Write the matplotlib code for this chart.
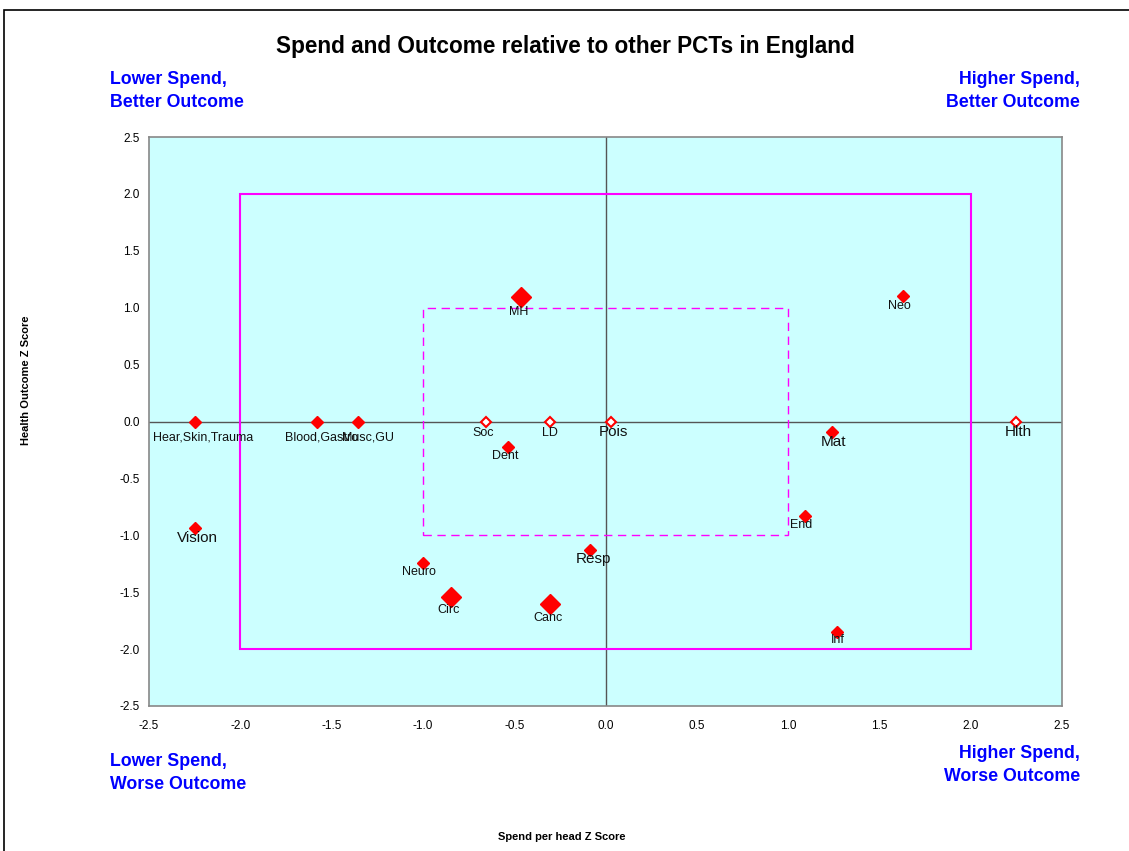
import matplotlib.pyplot as plt
from matplotlib.patches import Rectangle

plt.rcParams['font.family'] = ['Liberation Sans', 'DejaVu Sans']

# Data: spend z score (x) and health outcome z score (y) per programme
labels = ['Hear,Skin,Trauma', 'Blood,Gastro', 'Musc,GU', 'Soc', 'LD', 'Pois', 'Hlth',
          'MH', 'Dent', 'Neo', 'Mat', 'End', 'Resp', 'Vision', 'Neuro', 'Circ', 'Canc', 'Inf']
spend = [-2.25, -1.58, -1.355, -0.654, -0.304, 0.03, 2.25,
         -0.463, -0.534, 1.63, 1.24, 1.09, -0.085, -2.25, -1.0, -0.846, -0.304, 1.27]
outcome = [0.0, 0.0, 0.0, 0.0, 0.0, 0.0, 0.0,
           1.094, -0.224, 1.10, -0.09, -0.83, -1.13, -0.936, -1.24, -1.54, -1.60, -1.85]
# marker kind: 'f' filled small, 'h' hollow small, 'b' filled big
kind = ['f', 'f', 'f', 'h', 'h', 'h', 'h',
        'b', 'f', 'f', 'f', 'f', 'f', 'f', 'f', 'b', 'b', 'f']

# label offsets in pixels (dx, dy down) and font size
offsets = {'Hear,Skin,Trauma': (8, 16), 'Blood,Gastro': (5, 16), 'Musc,GU': (10, 16),
           'Soc': (-3, 11), 'LD': (0, 11), 'Pois': (2, 11), 'Hlth': (2, 11),
           'MH': (-2, 15), 'Dent': (-3, 9), 'Neo': (-4, 10), 'Mat': (2, 10),
           'End': (-3, 9), 'Resp': (3, 9), 'Vision': (3, 10), 'Neuro': (-4, 9),
           'Circ': (-2, 13), 'Canc': (-2, 14), 'Inf': (0, 8)}
big_font = ['Pois', 'Hlth', 'Mat', 'Resp', 'Vision']

fig = plt.figure(figsize=(11.29, 8.51), dpi=100)
ax = fig.add_axes([149 / 1129, 1 - 706 / 851, (1062 - 149) / 1129, (706 - 137) / 851])
ax.set_facecolor('#CCFFFF')

# outer chart border (clipped at right and bottom like the source)
fig.patches.append(Rectangle((4 / 1129, -0.1), 1.2, (851 - 10) / 851 + 0.1,
                             transform=fig.transFigure, fill=False,
                             edgecolor='black', linewidth=1.2))

ax.axhline(0, color='#555555', lw=1, zorder=1)
ax.axvline(0, color='#555555', lw=1, zorder=1)
ax.add_patch(Rectangle((-2, -2), 4, 4, fill=False, edgecolor='#FF00FF', lw=1.5, zorder=2))
ax.add_patch(Rectangle((-1, -1), 2, 2, fill=False, edgecolor='#FF00FF', lw=1,
                       linestyle=(0, (6, 4)), zorder=2))

for lab, x, y, k in zip(labels, spend, outcome, kind):
    if k == 'h':
        ax.plot(x, y, 'D', ms=5.5, mfc='white', mec='red', mew=1.5, zorder=3)
    elif k == 'b':
        ax.plot(x, y, 'D', ms=10, mfc='red', mec='red', zorder=3)
    else:
        ax.plot(x, y, 'D', ms=6, mfc='red', mec='red', zorder=3)
    dx, dy = offsets[lab]
    ax.annotate(lab, (x, y), xytext=(dx * 0.72, -dy * 0.72), textcoords='offset points',
                ha='center', va='center', fontsize=11 if lab in big_font else 9,
                color='#111111', zorder=4)

ax.set_xlim(-2.5, 2.5)
ax.set_ylim(-2.5, 2.5)
ticks = [-2.5, -2.0, -1.5, -1.0, -0.5, 0.0, 0.5, 1.0, 1.5, 2.0, 2.5]
ax.set_xticks(ticks)
ax.set_yticks(ticks)
ax.set_xticklabels([f'{t:.1f}' for t in ticks])
ax.set_yticklabels([f'{t:.1f}' for t in ticks])
ax.tick_params(axis='x', length=0, labelsize=8.5, pad=10)
ax.tick_params(axis='y', length=0, labelsize=8.5, pad=6.5)
for s in ax.spines.values():
    s.set_color('#888888')
    s.set_linewidth(1.2)

fig.text(565 / 1129, 1 - 46 / 851, 'Spend and Outcome relative to other PCTs in England',
         ha='center', va='center', fontsize=16.3, fontweight='bold')
blue = '#0000FF'
corner = dict(fontsize=12.8, fontweight='bold', color=blue, linespacing=1.45, va='center')
fig.text(110 / 1129, 1 - 91 / 851, 'Lower Spend,\nBetter Outcome', ha='left', **corner)
fig.text(1080 / 1129, 1 - 91 / 851, 'Higher Spend,\nBetter Outcome', ha='right', **corner)
fig.text(110 / 1129, 1 - 773 / 851, 'Lower Spend,\nWorse Outcome', ha='left', **corner)
fig.text(1080 / 1129, 1 - 765 / 851, 'Higher Spend,\nWorse Outcome', ha='right', **corner)
fig.text(562 / 1129, 1 - 837 / 851, 'Spend per head Z Score', ha='center', va='center',
         fontsize=8, fontweight='bold')
fig.text(26 / 1129, 1 - 380 / 851, 'Health Outcome Z Score', ha='center', va='center',
         rotation=90, fontsize=8, fontweight='bold')

fig.savefig('out.png', dpi=100)
